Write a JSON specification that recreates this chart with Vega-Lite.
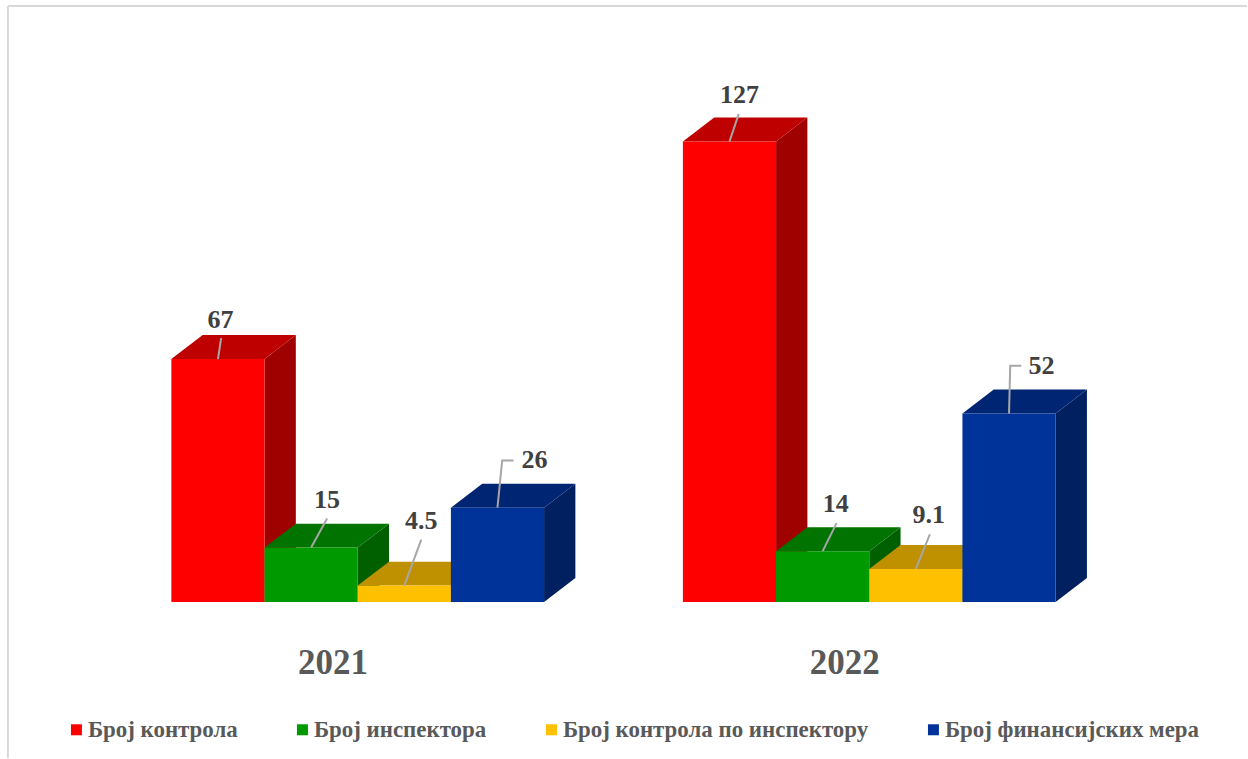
{
"$schema":"https://vega.github.io/schema/vega-lite/v6.json",
"autosize":{"type":"fit","contains":"padding"},
"width":1248,"height":759,"padding":0,"background":"#ffffff",
"config":{"view":{"stroke":null}},
"datasets":{"bars":[
{"year":2021,"series":"Број контрола","value":67},
{"year":2021,"series":"Број инспектора","value":15},
{"year":2021,"series":"Број контрола по инспектору","value":4.5},
{"year":2021,"series":"Број финансијских мера","value":26},
{"year":2022,"series":"Број контрола","value":127},
{"year":2022,"series":"Број инспектора","value":14},
{"year":2022,"series":"Број контрола по инспектору","value":9.1},
{"year":2022,"series":"Број финансијских мера","value":52}
]},
"data":{"name":"bars"},
"transform":[
{"calculate":"indexof(['Број контрола','Број инспектора','Број контрола по инспектору','Број финансијских мера'],datum.series)","as":"slot"},
{"calculate":"(datum.year==2021?1.834:7.324)+datum.slot","as":"x0"},
{"calculate":"datum.x0+1","as":"x1"},
{"calculate":"datum.x0+0.5","as":"xc"},
{"calculate":"[[2.5,39,3.2,21,3.2,21],[16,48,16,29,16,29],[17,65,17,46,17,46],[37,48,4.7,47.3,16,47.3],[10,47,9.3,27.7,9.3,27.7],[13,47,14,28.4,14,28.4],[13,54,14,34.7,14,34.7],[32.5,47,1.2,47.7,12.2,47.7]][(datum.year==2021?0:4)+datum.slot]","as":"off"}
],
"layer":[
{"data":{"values":[{"frame":"top"}]},
 "mark":{"type":"rule","stroke":"#d9d9d9","strokeWidth":2},
 "encoding":{"x":{"datum":0.08,"type":"quantitative","scale":{"domain":[-0.005,13.378],"nice":false,"zero":false},"axis":null},
 "x2":{"datum":13.378},
 "y":{"datum":164.4,"type":"quantitative","scale":{"domain":[-43.05,166.04],"nice":false,"zero":false},"axis":null}}},
{"data":{"values":[{"frame":"left"}]},
 "mark":{"type":"rule","stroke":"#d9d9d9","strokeWidth":2},
 "encoding":{"x":{"datum":0.08,"type":"quantitative","scale":{"domain":[-0.005,13.378],"nice":false,"zero":false},"axis":null},
 "y":{"datum":164.4,"type":"quantitative","scale":{"domain":[-43.05,166.04],"nice":false,"zero":false},"axis":null},
 "y2":{"datum":-43.05}}},
{"transform":[{"calculate":"[0,1]","as":"p"},{"flatten":["p"]},{"calculate":"datum.x1+datum.p*0.336","as":"sx"},{"calculate":"datum.p*6.6","as":"sy0"},{"calculate":"datum.value+datum.p*6.6","as":"sy1"}],
 "mark":{"type":"area","orient":"vertical","line":false},
 "encoding":{
 "x":{"field":"sx","type":"quantitative","scale":{"domain":[-0.005,13.378],"nice":false,"zero":false},"axis":null},
 "y":{"field":"sy1","type":"quantitative","scale":{"domain":[-43.05,166.04],"nice":false,"zero":false},"axis":null,"stack":null},
 "y2":{"field":"sy0"},
 "detail":{"field":"year"},
 "color":{"field":"series","type":"nominal","legend":null,"scale":{"domain":["Број контрола","Број инспектора","Број контрола по инспектору","Број финансијских мера"],"range":["#9f0000","#006000","#a07c00","#002060"]}}}},
{"transform":[{"calculate":"[0,1]","as":"p"},{"flatten":["p"]},{"calculate":"datum.x0+datum.p*0.336","as":"tx0"},{"calculate":"datum.x1+datum.p*0.336","as":"tx1"},{"calculate":"datum.value+datum.p*6.6","as":"ty"}],
 "mark":{"type":"area","orient":"horizontal","line":false},
 "encoding":{
 "y":{"field":"ty","type":"quantitative","scale":{"domain":[-43.05,166.04],"nice":false,"zero":false},"axis":null},
 "x":{"field":"tx0","type":"quantitative","scale":{"domain":[-0.005,13.378],"nice":false,"zero":false},"axis":null,"stack":null},
 "x2":{"field":"tx1"},
 "detail":{"field":"year"},
 "color":{"field":"series","type":"nominal","legend":null,"scale":{"domain":["Број контрола","Број инспектора","Број контрола по инспектору","Број финансијских мера"],"range":["#bf0000","#007300","#bf9000","#002673"]}}}},
{"mark":{"type":"rect"},
 "encoding":{
 "x":{"field":"x0","type":"quantitative","scale":{"domain":[-0.005,13.378],"nice":false,"zero":false},"axis":null},
 "x2":{"field":"x1"},
 "y":{"field":"value","type":"quantitative","scale":{"domain":[-43.05,166.04],"nice":false,"zero":false},"axis":null},
 "y2":{"datum":0},
 "color":{"field":"series","type":"nominal","scale":{"domain":["Број контрола","Број инспектора","Број контрола по инспектору","Број финансијских мера"],"range":["#ff0000","#009900","#ffc000","#003399"]},
 "legend":{"title":null,"orient":"none","legendX":65,"legendY":718,"columns":4,"columnPadding":53,"symbolType":"square","symbolSize":121,"symbolStrokeWidth":0,"symbolOpacity":1,"labelFont":"Liberation Serif","labelFontWeight":"bold","labelFontSize":22.9,"labelColor":"#595959","labelOffset":0,"labelLimit":500,"padding":0}}}},
{"transform":[{"calculate":"[0,1,2]","as":"p"},{"flatten":["p"]},
 {"calculate":"datum.xc+(datum.p==0?0:datum.p==1?datum.off[2]:datum.off[4])/93.25","as":"lx"},
 {"calculate":"datum.value+(datum.p==0?0:datum.p==1?datum.off[3]:datum.off[5])/3.63","as":"ly"},
 {"calculate":"datum.year+datum.series","as":"key"}],
 "mark":{"type":"line","stroke":"#a6a6a6","strokeWidth":2},
 "encoding":{
 "x":{"field":"lx","type":"quantitative","scale":{"domain":[-0.005,13.378],"nice":false,"zero":false},"axis":null},
 "y":{"field":"ly","type":"quantitative","scale":{"domain":[-43.05,166.04],"nice":false,"zero":false},"axis":null},
 "detail":{"field":"key"},
 "order":{"field":"p"}}},
{"transform":[{"calculate":"datum.xc+datum.off[0]/93.25","as":"tx"},{"calculate":"datum.value+datum.off[1]/3.63","as":"ty"}],
 "mark":{"type":"text","font":"Liberation Serif","fontWeight":"bold","fontSize":26,"fill":"#404040","align":"center","baseline":"middle"},
 "encoding":{
 "x":{"field":"tx","type":"quantitative","scale":{"domain":[-0.005,13.378],"nice":false,"zero":false},"axis":null},
 "y":{"field":"ty","type":"quantitative","scale":{"domain":[-43.05,166.04],"nice":false,"zero":false},"axis":null},
 "text":{"field":"value","type":"quantitative"}}},
{"data":{"values":[{"year":"2021"},{"year":"2022"}]},
 "transform":[{"calculate":"datum.year=='2021'?3.57:9.06","as":"yx"}],
 "mark":{"type":"text","font":"Liberation Serif","fontWeight":"bold","fontSize":35,"fill":"#595959","align":"center","baseline":"middle"},
 "encoding":{
 "x":{"field":"yx","type":"quantitative","scale":{"domain":[-0.005,13.378],"nice":false,"zero":false},"axis":null},
 "y":{"datum":-16.9,"type":"quantitative","scale":{"domain":[-43.05,166.04],"nice":false,"zero":false},"axis":null},
 "text":{"field":"year","type":"nominal"}}}
],
"resolve":{"scale":{"color":"independent"}}
}
